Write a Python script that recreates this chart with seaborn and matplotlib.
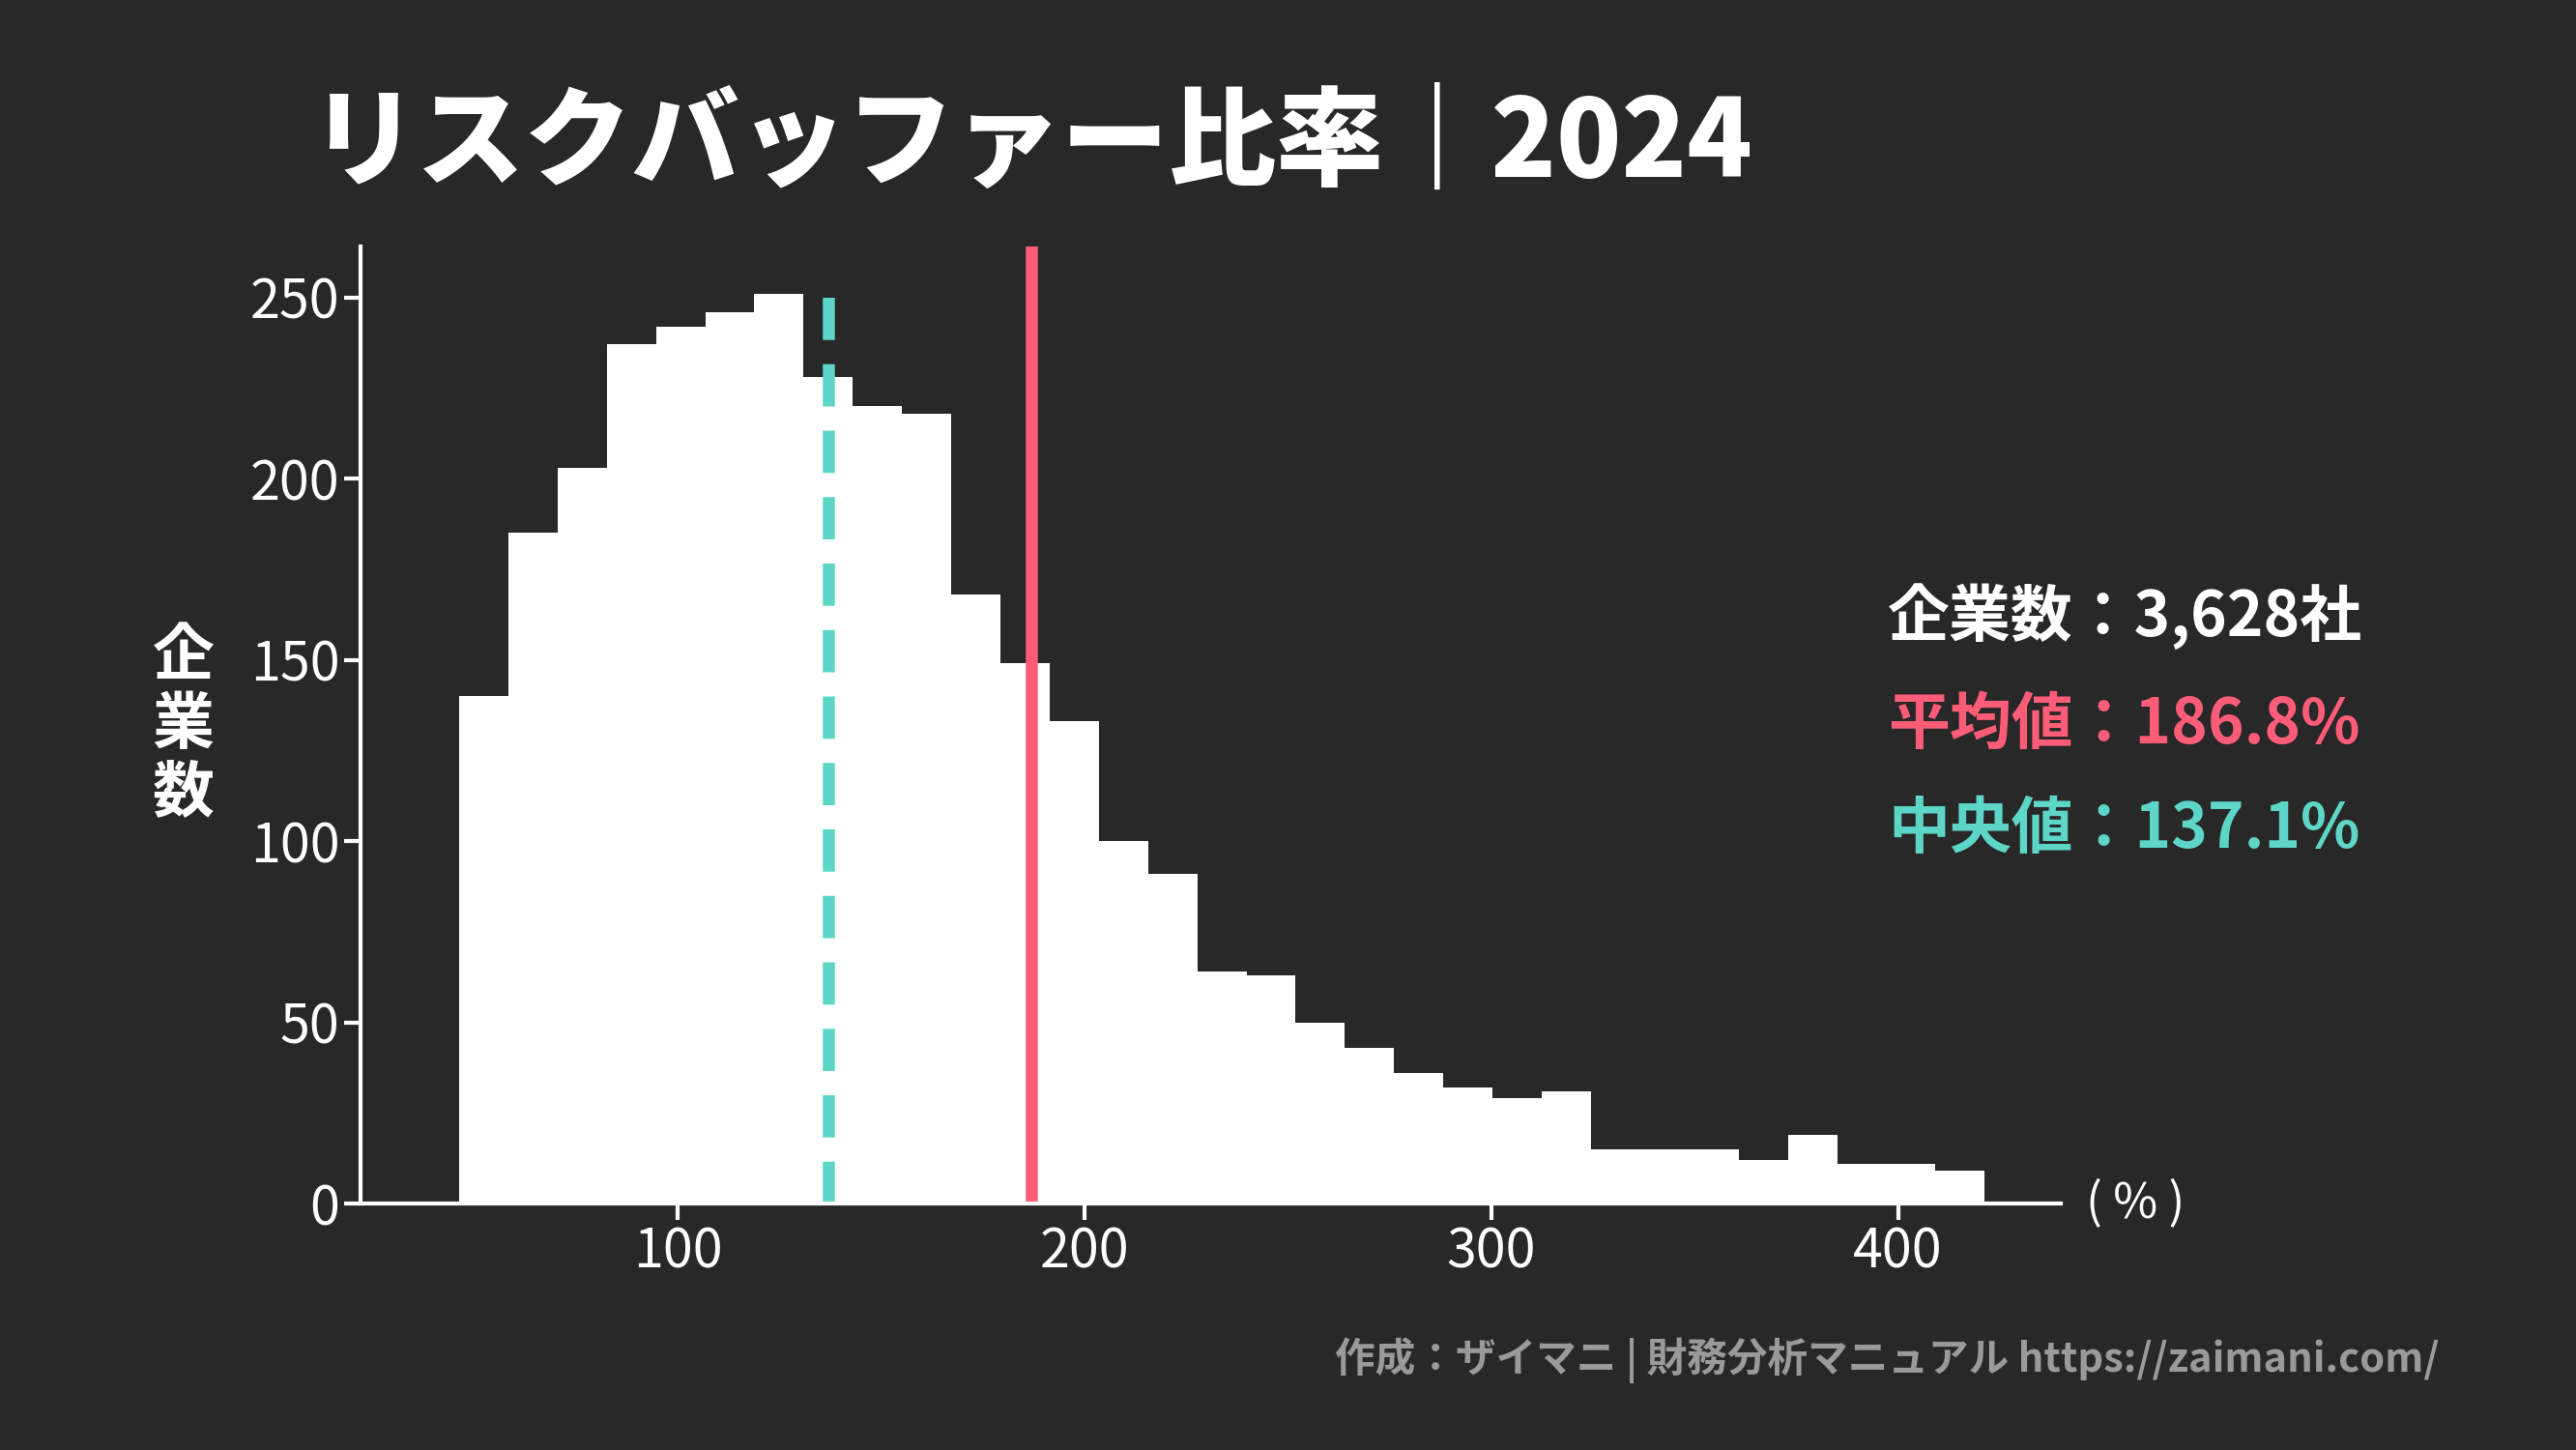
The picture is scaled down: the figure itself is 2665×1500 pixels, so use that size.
import numpy as np
import pandas as pd
import matplotlib
matplotlib.use("Agg")
import matplotlib.pyplot as plt
import seaborn as sns

# histogram data
bin_start = 46.2
bin_width = 12.1
counts = [140, 185, 203, 237, 242, 246, 251, 228, 220, 218, 168, 149, 133, 100, 91,
          64, 63, 50, 43, 36, 32, 29, 31, 15, 15, 15, 12, 19, 11, 11, 9]
mean_val = 186.8
median_val = 137.1
n_companies = "3,628"
x_ticks = [100, 200, 300, 400]
y_ticks = [0, 50, 100, 150, 200, 250]

edges = bin_start + bin_width * np.arange(len(counts) + 1)
centers = (edges[:-1] + edges[1:]) / 2
df = pd.DataFrame({"ratio": centers, "count": counts})

BG = "#282828"
RED = "#ff5c77"
TEAL = "#5dd6c8"
FONT = "Noto Sans CJK JP"
plt.rcParams["font.family"] = FONT

fig = plt.figure(figsize=(26.65, 15), dpi=100, facecolor=BG)
ax = fig.add_axes([0.14, 0.17, 0.66, 0.66], facecolor=BG)

sns.histplot(data=df, x="ratio", weights="count", bins=edges.tolist(), color="white",
             alpha=1, edgecolor="none", linewidth=0, ax=ax)
ax.axvline(median_val, ymax=0.965, color=TEAL, lw=9, ls=(0, (3.5, 2)))
ax.axvline(mean_val, ymax=1.0, color=RED, lw=9)

ax.set_xlim(22, 440)
ax.set_ylim(0, 264)
ax.set_xticks(x_ticks)
ax.set_yticks(y_ticks)
ax.tick_params(colors="white", labelsize=40, width=3, length=12)
for s in ["top", "right"]:
    ax.spines[s].set_visible(False)
for s in ["left", "bottom"]:
    ax.spines[s].set_color("white")
    ax.spines[s].set_linewidth(3)
ax.set_xlabel("")
ax.set_ylabel("企\n業\n数", color="white", fontsize=46, fontweight="bold",
              rotation=0, va="center", labelpad=50, linespacing=1.1)
ax.text(1.015, 0.0, "( % )", transform=ax.transAxes, color="white", fontsize=36,
        va="center", ha="left")

fig.text(0.12, 0.9, "リスクバッファー比率｜2024", color="white", fontsize=80,
         fontweight="black", va="center")
fig.text(0.733, 0.575, f"企業数：{n_companies}社", color="white", fontsize=46,
         fontweight="bold", va="center")
fig.text(0.733, 0.5, f"平均値：{mean_val}%", color=RED, fontsize=46,
         fontweight="bold", va="center")
fig.text(0.733, 0.428, f"中央値：{median_val}%", color=TEAL, fontsize=46,
         fontweight="bold", va="center")
fig.text(0.947, 0.062, "作成：ザイマニ | 財務分析マニュアル https://zaimani.com/",
         color="#9a9a9a", fontsize=30, fontweight="bold", ha="right", va="center")

fig.savefig("out.png", facecolor=BG)
